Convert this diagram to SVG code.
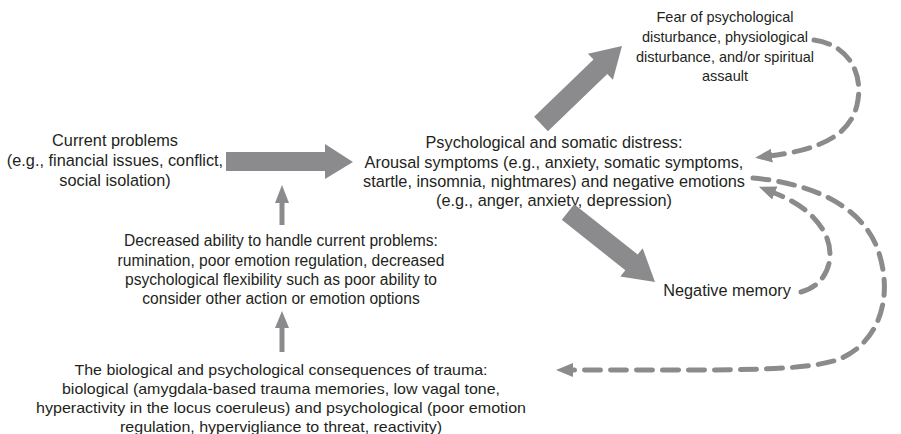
<svg xmlns="http://www.w3.org/2000/svg" width="901" height="434" viewBox="0 0 901 434">
  <style>
    .t { font-family: "Liberation Sans", Arial, sans-serif; font-size: 16.3px; fill: #231f20; text-anchor: middle; }
    .s { font-size: 14.5px; }
    .m { font-size: 15.6px; }
    .n { font-family: "Liberation Sans Narrow", "Liberation Sans", Arial, sans-serif; font-size: 14.5px; fill: #231f20; text-anchor: middle; }
    .big { fill: #8b8b8d; }
    .dash { fill: none; stroke: #8b8b8d; stroke-width: 5; stroke-dasharray: 16 10; stroke-linecap: round; }
  </style>
  <defs>
    <marker id="head" markerUnits="userSpaceOnUse" markerWidth="18" markerHeight="16" refX="3" refY="8" orient="auto">
      <path d="M0,1 L17,8 L0,15 z" fill="#8b8b8d"/>
    </marker>
  </defs>
  <rect width="901" height="434" fill="#ffffff"/>

  <g id="current-problems">
    <text class="t" x="115" y="146">Current problems</text>
    <text class="t" x="115" y="166">(e.g., financial issues, conflict,</text>
    <text class="t" x="115" y="186">social isolation)</text>
  </g>

  <g id="distress">
    <text class="t" x="554" y="148">Psychological and somatic distress:</text>
    <text class="t" x="554" y="168">Arousal symptoms (e.g., anxiety, somatic symptoms,</text>
    <text class="t" x="554" y="187">startle, insomnia, nightmares) and negative emotions</text>
    <text class="t" x="554" y="206">(e.g., anger, anxiety, depression)</text>
  </g>

  <g id="fear">
    <text class="t s" x="725" y="22">Fear of psychological</text>
    <text class="t s" x="725" y="42">disturbance, physiological</text>
    <text class="t s" x="725" y="62">disturbance, and/or spiritual</text>
    <text class="t s" x="725" y="81">assault</text>
  </g>

  <g id="negative-memory">
    <text class="t" x="727" y="296">Negative memory</text>
  </g>

  <g id="decreased-ability">
    <text class="t m" x="281" y="246">Decreased ability to handle current problems:</text>
    <text class="t m" x="281" y="266">rumination, poor emotion regulation, decreased</text>
    <text class="t m" x="281" y="285">psychological flexibility such as poor ability to</text>
    <text class="t m" x="281" y="304">consider other action or emotion options</text>
  </g>

  <g id="trauma-consequences">
    <text class="n" x="281" y="375" textLength="413" lengthAdjust="spacingAndGlyphs">The biological and psychological consequences of trauma:</text>
    <text class="n" x="281" y="394" textLength="438" lengthAdjust="spacingAndGlyphs">biological (amygdala-based trauma memories, low vagal tone,</text>
    <text class="n" x="281" y="413" textLength="490" lengthAdjust="spacingAndGlyphs">hyperactivity in the locus coeruleus) and psychological (poor emotion</text>
    <text class="n" x="281" y="432" textLength="322" lengthAdjust="spacingAndGlyphs">regulation, hypervigliance to threat, reactivity)</text>
  </g>

  <g id="connectors">
    <!-- solid block arrows -->
    <polygon class="big" points="226,152 325,152 325,144 353,162 325,179 325,171 226,171"/>
    <polygon class="big" points="534.1,116.8 593.5,59.6 587.9,53.8 622,46 612.9,79.8 607.3,74 547.9,131.2"/>
    <polygon class="big" points="574.2,204.2 637.7,254.6 642.7,248.3 655,282 620.3,276.5 625.3,270.2 561.8,219.8"/>
    <!-- small upward arrows -->
    <polygon class="big" points="279.5,225 279.5,203 275,203 282,185 289,203 284.5,203 284.5,225"/>
    <polygon class="big" points="279.5,352 279.5,328 275,328 282,311 289,328 284.5,328 284.5,352"/>
    <!-- dashed feedback loops -->
    <path class="dash" marker-end="url(#head)" d="M 814 40 C 850 45, 864 75, 857 105 C 850 135, 820 150, 769 156"/>
    <path class="dash" marker-end="url(#head)" d="M 801 292 C 828 285, 838 255, 823 230 C 811 210, 792 200, 772 192"/>
    <path class="dash" marker-end="url(#head)" d="M 753 178 C 800 182, 860 200, 878 250 C 895 300, 877 345, 837 360 C 800 372, 720 370, 570 370"/>
  </g>
</svg>
